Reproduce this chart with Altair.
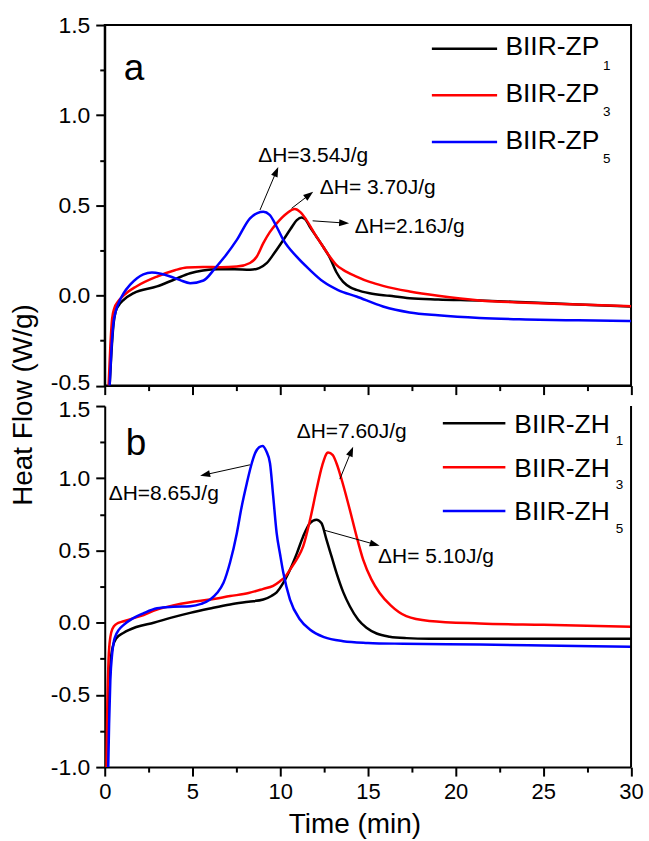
import math
import altair as alt
import pandas as pd

FONT = "Liberation Sans"

# ---------------- data: panel a (BIIR-ZP) ----------------
series_a = ["BIIR-ZP1", "BIIR-ZP3", "BIIR-ZP5"]
zp1_t = [0.28, 0.38, 0.50, 0.62, 0.80, 1.08, 1.65, 2.98, 4.0, 4.87, 5.6, 6.45, 7.4, 8.28, 8.8, 9.23, 9.7,
         10.18, 10.6, 10.95, 11.22, 11.45, 11.69, 12.07, 12.45, 12.83, 13.2, 13.59, 14.0, 14.35, 15.1, 16.24,
         17.38, 19.0, 21.36, 24.0, 27.0, 30.0]
zp1_hf = [-0.50, -0.32, -0.16, -0.09, -0.055, -0.024, 0.013, 0.05, 0.09, 0.123, 0.138, 0.145, 0.145, 0.142,
          0.152, 0.179, 0.24, 0.308, 0.37, 0.418, 0.433, 0.42, 0.381, 0.326, 0.27, 0.21, 0.13, 0.075, 0.045,
          0.031, 0.012, -0.002, -0.015, -0.022, -0.028, -0.038, -0.05, -0.061]
zp3_t = [0.22, 0.32, 0.42, 0.55, 0.75, 1.08, 1.8, 2.98, 4.0, 4.68, 5.6, 6.6, 7.53, 8.28, 8.66, 9.04, 9.4,
         9.8, 10.37, 10.84, 11.15, 11.5, 12.07, 12.45, 12.83, 13.2, 13.59, 14.35, 15.1, 15.86, 17.38, 19.0,
         21.36, 24.0, 27.0, 30.0]
zp3_hf = [-0.50, -0.28, -0.13, -0.07, -0.035, 0.0, 0.05, 0.105, 0.14, 0.155, 0.158, 0.157, 0.16, 0.18,
          0.215, 0.29, 0.35, 0.40, 0.455, 0.479, 0.462, 0.418, 0.326, 0.27, 0.215, 0.17, 0.142, 0.105, 0.075,
          0.053, 0.022, -0.002, -0.028, -0.04, -0.05, -0.06]
zp5_t = [0.28, 0.38, 0.50, 0.62, 0.80, 1.08, 1.45, 1.84, 2.2, 2.69, 3.2, 3.74, 4.3, 4.87, 5.63, 6.29, 6.8,
         7.53, 8.28, 8.7, 9.04, 9.4, 9.8, 10.18, 10.94, 11.69, 12.45, 13.3, 14.35, 15.86, 17.38, 19.0, 21.36,
         24.0, 27.0, 30.0]
zp5_hf = [-0.50, -0.30, -0.15, -0.09, -0.04, 0.013, 0.06, 0.096, 0.117, 0.127, 0.12, 0.105, 0.085, 0.068,
          0.083, 0.151, 0.21, 0.308, 0.428, 0.457, 0.464, 0.447, 0.381, 0.308, 0.215, 0.142, 0.077, 0.03,
          -0.006, -0.061, -0.094, -0.11, -0.125, -0.133, -0.138, -0.142]

# ---------------- data: panel b (BIIR-ZH) ----------------
series_b = ["BIIR-ZH1", "BIIR-ZH3", "BIIR-ZH5"]
zh1_t = [0.15, 0.22, 0.32, 0.45, 0.65, 1.08, 1.8, 2.79, 3.8, 4.87, 6.0, 7.15, 8.2, 9.04, 9.5, 9.8, 10.2,
         10.56, 10.95, 11.31, 11.7, 12.07, 12.35, 12.64, 12.95, 13.21, 13.6, 13.97, 14.45, 14.92, 15.5,
         16.24, 17.2, 18.5, 21.36, 25.0, 30.0]
zh1_hf = [-1.0, -0.6, -0.3, -0.17, -0.11, -0.07, -0.03, 0.0, 0.035, 0.068, 0.098, 0.126, 0.145, 0.16, 0.185,
          0.21, 0.28, 0.367, 0.48, 0.597, 0.69, 0.713, 0.69, 0.575, 0.45, 0.345, 0.21, 0.114, 0.02, -0.035,
          -0.075, -0.097, -0.107, -0.111, -0.111, -0.111, -0.111]
zh3_t = [0.10, 0.15, 0.22, 0.32, 0.45, 0.65, 1.08, 2.03, 2.98, 3.9, 4.87, 6.0, 7.15, 8.2, 9.04, 9.6, 9.99,
         10.3, 10.56, 10.95, 11.31, 11.7, 12.07, 12.4, 12.73, 13.0, 13.21, 13.6, 13.97, 14.35, 14.73, 15.2,
         15.67, 16.3, 17.19, 18.5, 21.36, 25.0, 30.0]
zh3_hf = [-1.0, -0.55, -0.25, -0.1, -0.04, -0.01, 0.01, 0.045, 0.091, 0.12, 0.142, 0.16, 0.184, 0.205, 0.234,
          0.255, 0.287, 0.32, 0.367, 0.44, 0.528, 0.71, 0.92, 1.09, 1.178, 1.16, 1.104, 0.95, 0.782, 0.6,
          0.436, 0.3, 0.206, 0.12, 0.045, 0.012, -0.005, -0.015, -0.028]
zh5_t = [0.20, 0.25, 0.32, 0.42, 0.52, 0.61, 0.8, 1.08, 1.6, 2.2, 2.98, 3.9, 4.87, 5.5, 6.01, 6.4, 6.77,
         7.15, 7.53, 7.8, 8.1, 8.35, 8.57, 8.8, 9.0, 9.2, 9.42, 9.6, 9.8, 10.0, 10.18, 10.56, 11.13, 11.69,
         12.5, 13.59, 15.0, 17.0, 21.36, 25.0, 30.0]
zh5_hf = [-1.0, -0.7, -0.4, -0.22, -0.13, -0.093, -0.05, -0.015, 0.03, 0.065, 0.10, 0.11, 0.114, 0.13, 0.16,
          0.205, 0.276, 0.42, 0.62, 0.8, 0.966, 1.09, 1.173, 1.215, 1.224, 1.19, 1.104, 0.88, 0.62, 0.47,
          0.345, 0.16, 0.022, -0.047, -0.1, -0.128, -0.14, -0.146, -0.151, -0.158, -0.167]

# ---------------- legend text ----------------
legend_a_base = "BIIR-ZP"
legend_b_base = "BIIR-ZH"
legend_subs = ["1", "3", "5"]
colors = ["#000000", "#ff0000", "#0000ff"]

# ---------------- annotations (data coordinates) ----------------
ann_a_text = ["\u0394H=3.54J/g", "\u0394H= 3.70J/g", "\u0394H=2.16J/g"]
ann_a_tx = [8.75, 12.26, 14.25]
ann_a_ty = [0.774, 0.598, 0.381]
ann_a_from_t = [8.85, 10.65, 11.85]
ann_a_from_hf = [0.474, 0.483, 0.414]
ann_a_to_t = [9.89, 11.88, 13.93]
ann_a_to_hf = [0.713, 0.575, 0.400]

ann_b_text = ["\u0394H=7.60J/g", "\u0394H=8.65J/g", "\u0394H= 5.10J/g"]
ann_b_tx = [10.94, 0.23, 15.58]
ann_b_ty = [1.323, 0.892, 0.454]
ann_b_from_t = [13.40, 8.28, 12.55]
ann_b_from_hf = [0.994, 1.093, 0.639]
ann_b_to_t = [14.16, 5.44, 15.67]
ann_b_to_hf = [1.219, 1.017, 0.533]

# ---------------- layout ----------------
W = 527.7
HA = 361.5
HB = 362.0
X_DOM = [0, 30]
YA_DOM = [-0.5, 1.5]
YB_DOM = [-1.0, 1.5]
ARROW = "M0,-1L-0.7,1L0.7,1Z"

one = pd.DataFrame({"k": [0]})


def series_df(names, ts, hfs):
    rows = []
    for n, tt, hh in zip(names, ts, hfs):
        for a, b in zip(tt, hh):
            rows.append({"series": n, "t": a, "hf": b})
    return pd.DataFrame(rows)


def x_axis(show_labels):
    vals = [i * 2.5 for i in range(13)]
    kw = dict(
        values=vals, grid=False, domainColor="black", domainWidth=2, tickColor="black", tickWidth=2,
        tickSize={"condition": {"test": "datum.value % 5 === 0", "value": 9}, "value": 5},
        labelFont=FONT, labelFontSize=22, labelColor="black", labelPadding=5,
        labelFlush=False, labelOverlap=False,
        labelExpr="datum.value % 5 === 0 ? format(datum.value, 'd') : ''",
    )
    if show_labels:
        kw.update(title="Time (min)", titleFont=FONT, titleFontSize=28, titleFontWeight="normal",
                  titleColor="black", titleX=250.4, titleY=58, titleAlign="center", titleBaseline="middle")
    else:
        kw.update(labels=False, title="")
    return alt.Axis(**kw)


def y_axis(lo, show_title, edge_value, edge_shift):
    n = int(round((1.5 - lo) / 0.25))
    vals = [lo + i * 0.25 for i in range(n + 1)]
    kw = dict(
        values=vals, grid=False, domainColor="black", domainWidth=2, tickColor="black", tickWidth=2,
        tickSize={"condition": {"test": "datum.value % 0.5 === 0", "value": 9}, "value": 5},
        labelFont=FONT, labelFontSize=23, labelColor="black", labelPadding=6,
        labelFlush=False, labelOverlap=False,
        labelOffset={"condition": {"test": "datum.value === %s" % edge_value, "value": edge_shift},
                     "value": 0},
        labelExpr="datum.value % 0.5 === 0 ? (datum.value < 0 ? '-' : '') + format(abs(datum.value), '.1f') : ''",
    )
    if show_title:
        kw.update(title="Heat Flow (W/g)", titleFont=FONT, titleFontSize=28, titleFontWeight="normal",
                  titleColor="black", titleAngle=270, titleX=-81, titleY=380.5, titleAlign="center",
                  titleBaseline="middle")
    else:
        kw.update(title="")
    return alt.Axis(**kw)


def panel(names, ts, hfs, ydom, xaxis, yaxis, ky, texts, tx, ty, ft, fh, tt2, th2,
          leg_base, leg_line_x, leg_text_x, leg_sub_x, leg_line_y0, leg_base_y0, leg_step, leg_sub_dy,
          label, label_xy, height, right_border):
    xs = alt.Scale(domain=X_DOM, nice=False, zero=False)
    ys = alt.Scale(domain=ydom, nice=False, zero=False)

    def X(f):
        return alt.X(f + ":Q", scale=xs, axis=xaxis)

    def Y(f):
        return alt.Y(f + ":Q", scale=ys, axis=yaxis)

    cscale = alt.Scale(domain=names, range=colors)
    df = series_df(names, ts, hfs)
    lines = alt.Chart(df).mark_line(strokeWidth=2.5, interpolate="monotone", clip=True).encode(
        x=X("t"), y=Y("hf"), color=alt.Color("series:N", scale=cscale, legend=None),
        order=alt.Order("t:Q"))

    # arrows
    kx = W / (X_DOM[1] - X_DOM[0])
    rows = []
    for s, a, b, x1, y1, x2, y2 in zip(texts, tx, ty, ft, fh, tt2, th2):
        dx = (x2 - x1) * kx
        dy = -(y2 - y1) * ky
        L = math.hypot(dx, dy)
        ux, uy = dx / L, dy / L
        ang = math.degrees(math.atan2(dx, -dy)) % 360
        hx = x2 - 5 * ux / kx
        hy = y2 + 5 * uy / ky
        rows.append({"label": s, "tx": a, "ty": b, "t": x1, "hf": y1, "t2": hx, "hf2": hy,
                     "hx": hx, "hy": hy, "ang": ang})
    adf = pd.DataFrame(rows)
    arule = alt.Chart(adf).mark_rule(color="black", strokeWidth=1).encode(
        x=X("t"), y=Y("hf"), x2="t2:Q", y2="hf2:Q")
    ahead = alt.Chart(adf).mark_point(shape=ARROW, filled=True, size=100, color="black", opacity=1,
                                      strokeWidth=0).encode(
        x=X("hx"), y=Y("hy"), angle=alt.Angle("ang:Q", scale=None))
    atext = alt.Chart(adf).mark_text(align="left", baseline="middle", font=FONT, fontSize=21,
                                     color="black").encode(x=X("tx"), y=Y("ty"), text="label:N")

    layers = [lines, arule, ahead, atext]

    for i, (c, s) in enumerate(zip(colors, legend_subs)):
        ly = leg_line_y0 + i * leg_step
        by = leg_base_y0 + i * leg_step
        layers.append(alt.Chart(one).mark_rule(color=c, strokeWidth=2.5).encode(
            x=alt.value(leg_line_x[0]), x2=alt.value(leg_line_x[1]), y=alt.value(ly)))
        layers.append(alt.Chart(one).mark_text(text=leg_base, align="left", baseline="alphabetic",
                                               font=FONT, fontSize=26.5, color="black").encode(
            x=alt.value(leg_text_x), y=alt.value(by)))
        layers.append(alt.Chart(one).mark_text(text=s, align="left", baseline="alphabetic",
                                               font=FONT, fontSize=13.5, color="black").encode(
            x=alt.value(leg_sub_x), y=alt.value(by + leg_sub_dy)))

    layers.append(alt.Chart(one).mark_text(text=label, align="left", baseline="alphabetic", font=FONT,
                                           fontSize=37, color="black").encode(
        x=alt.value(label_xy[0]), y=alt.value(label_xy[1])))
    if right_border:
        layers.append(alt.Chart(one).mark_rule(color="black", strokeWidth=2).encode(
            x=alt.value(W), y=alt.value(0), y2=alt.value(height)))
    return layers


layers_a = panel(series_a, [zp1_t, zp3_t, zp5_t], [zp1_hf, zp3_hf, zp5_hf], YA_DOM,
                 x_axis(False), y_axis(-0.5, True, "-0.5", -3), HA / 2.0,
                 ann_a_text, ann_a_tx, ann_a_ty, ann_a_from_t, ann_a_from_hf, ann_a_to_t, ann_a_to_hf,
                 legend_a_base, (328, 393.4), 401.7, 499.5, 23.8, 30.5, 46.7, 14.3,
                 "a", (19, 55.5), HA, False)
layers_b = panel(series_b, [zh1_t, zh3_t, zh5_t], [zh1_hf, zh3_hf, zh5_hf], YB_DOM,
                 x_axis(True), y_axis(-1.0, False, "1.5", 3), HB / 2.5,
                 ann_b_text, ann_b_tx, ann_b_ty, ann_b_from_t, ann_b_from_hf, ann_b_to_t, ann_b_to_hf,
                 legend_b_base, (339, 401.7), 410.7, 512.4, 17.3, 26.7, 44.0, 12.6,
                 "b", (21, 49), HB, True)

chart_a = alt.layer(*layers_a).properties(
    width=W, height=HA, view=alt.ViewBackground(stroke="black", strokeWidth=2))
chart_b = alt.layer(*layers_b).properties(
    width=W, height=HB, view=alt.ViewBackground(stroke="transparent", strokeWidth=0))

chart = alt.vconcat(chart_a, chart_b, spacing=20, bounds="flush").properties(
    padding={"left": 9, "top": 12, "right": 5, "bottom": 5},
    background="white",
).configure_view(stroke="transparent")

chart.save("out.html", embed_options={"renderer": "svg", "actions": False})
